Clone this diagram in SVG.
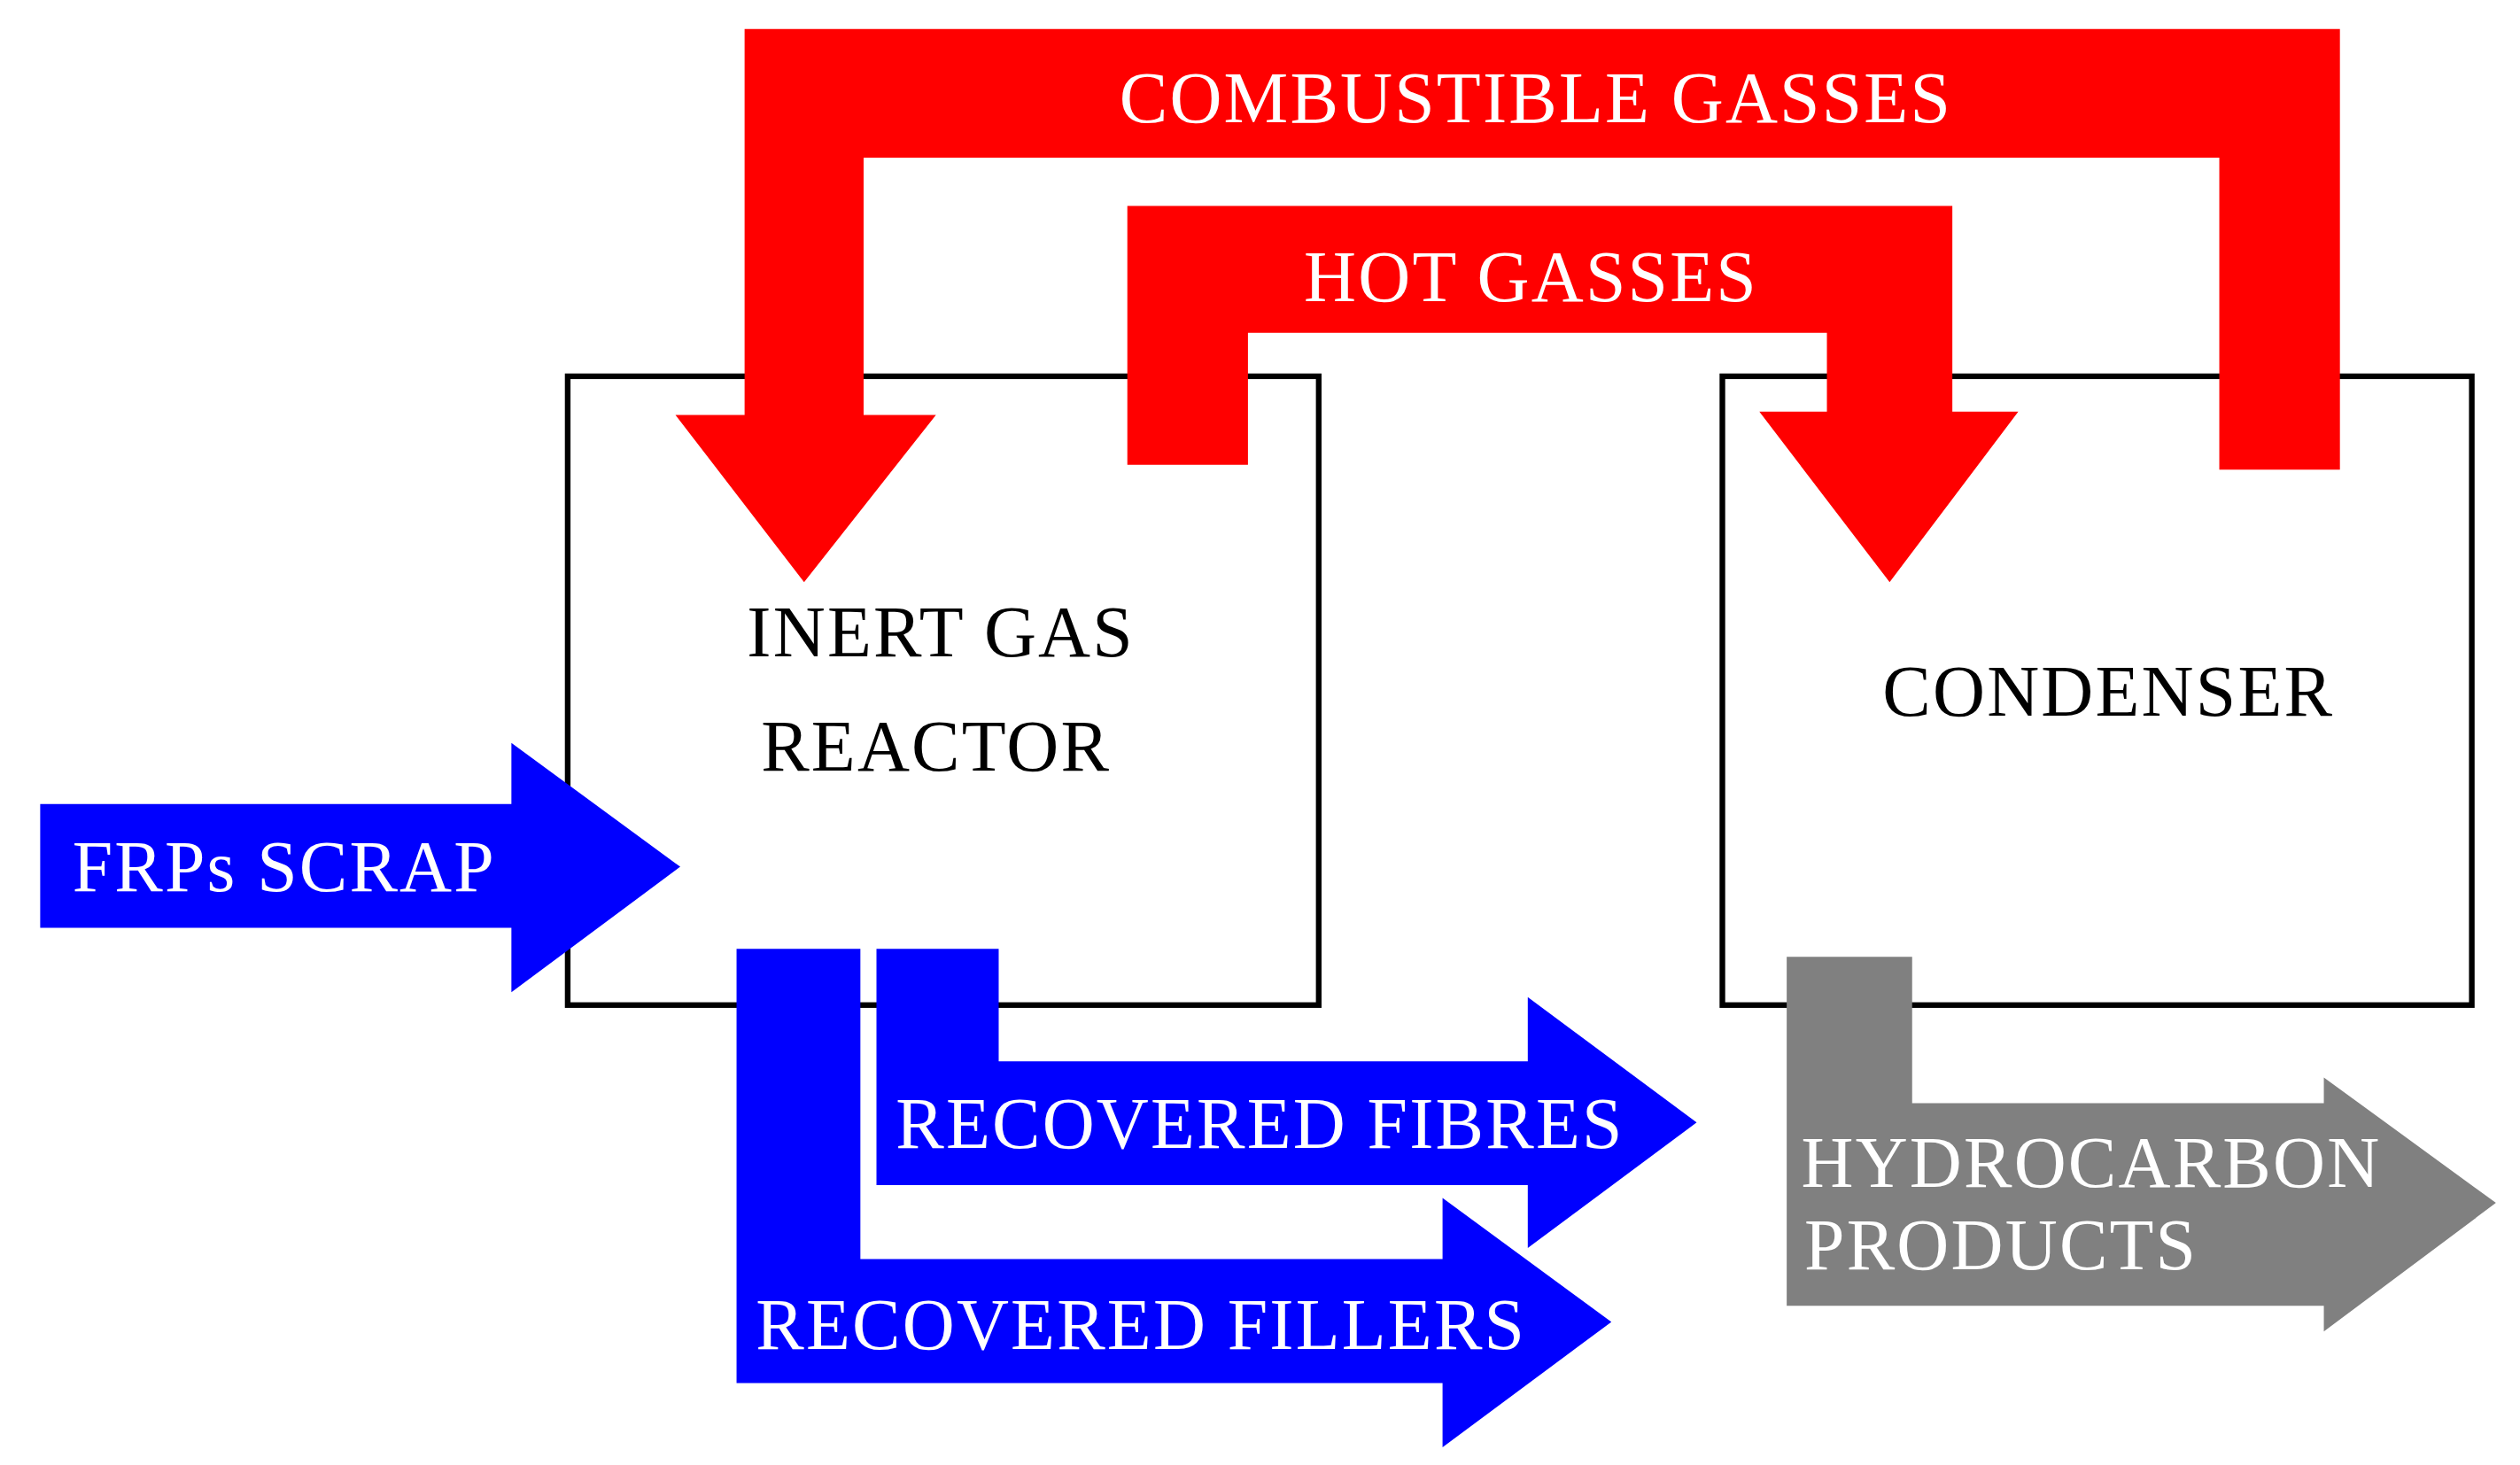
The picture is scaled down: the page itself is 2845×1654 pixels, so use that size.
<svg xmlns="http://www.w3.org/2000/svg" width="2845" height="1654" viewBox="0 0 2845 1654">
<style>
.box{fill:none;stroke:#000;stroke-width:3.5}
.red{fill:#ff0000}.blue{fill:#0000ff}.gray{fill:#808080}
text{font-family:"Liberation Serif","Times New Roman",serif;font-size:45px;letter-spacing:1.2px}
.w{fill:#fff}.k{fill:#000}
</style>
<rect width="2845" height="1654" fill="#fff"/>
<g transform="scale(1.8156)">
<g id="reactor"><rect class="box" x="353" y="234" width="467" height="391"/>
<text class="k" x="585" y="408" text-anchor="middle">INERT GAS</text>
<text class="k" x="582" y="479" text-anchor="middle">REACTOR</text></g>
<g id="condenser"><rect class="box" x="1071" y="234" width="466" height="391"/>
<text class="k" x="1311" y="445" text-anchor="middle">CONDENSER</text></g>
<g id="connectors">
<g id="combustible"><polygon class="red" points="1455,292 1455,18 463,18 463,258 420,258 500,362 582,258 537,258 537,98 1380,98 1380,292"/>
<text class="w" x="955" y="76" text-anchor="middle">COMBUSTIBLE GASSES</text></g>
<g id="hot"><polygon class="red" points="701,289 701,128 1214,128 1214,256 1255,256 1175,362 1094,256 1136,256 1136,207 776,207 776,289"/>
<text class="w" x="952" y="187" text-anchor="middle">HOT GASSES</text></g>
<g id="frps"><polygon class="blue" points="25,500 318,500 318,462 423,539 318,617 318,577 25,577"/>
<text class="w" x="45" y="554">FRPs SCRAP</text></g>
<g id="fillers"><polygon class="blue" points="458,590 535,590 535,783 897,783 897,745 1002,822 897,900 897,860 458,860"/>
<text class="w" x="470" y="839">RECOVERED FILLERS</text></g>
<g id="fibres"><polygon class="blue" points="545,590 621,590 621,660 950,660 950,620 1055,698 950,776 950,737 545,737"/>
<text class="w" x="557" y="714">RECOVERED FIBRES</text></g>
<g id="hydro"><polygon class="gray" points="1111,595 1189,595 1189,686 1445,686 1445,670 1552,748 1445,828 1445,812 1111,812"/>
<text class="w" x="1120" y="738">HYDROCARBON</text>
<text class="w" x="1122" y="789">PRODUCTS</text></g>
</g>
</g>
</svg>
